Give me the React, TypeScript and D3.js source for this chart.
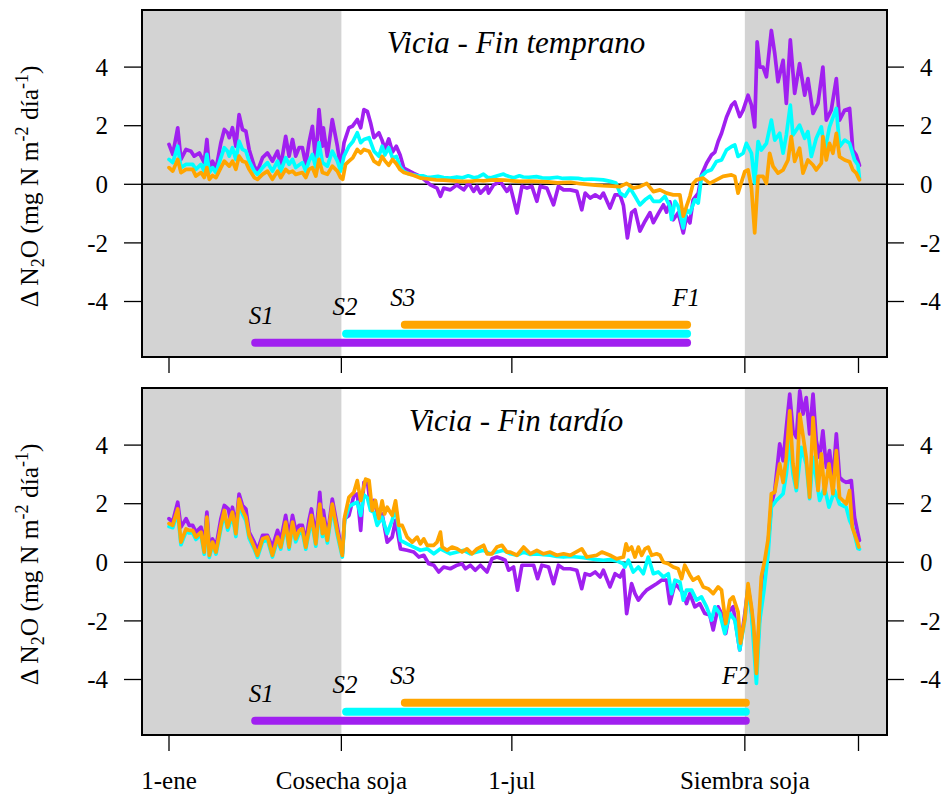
import React from 'react';
import * as d3 from 'd3';

type Pt = [number, number];

// ---------- axis / annotation data ----------
const xTickDays = [0, 91, 181, 304, 364];
const xTickLabels = ['1-ene', 'Cosecha soja', '1-jul', 'Siembra soja', ''];
const yTicks = [-4, -2, 0, 2, 4];
const cosechaDay = 91;
const siembraDay = 304;
const panelTitles = ['Vicia - Fin temprano', 'Vicia - Fin tardío'];
const finLabels = ['F1', 'F2'];
const finDays = [273.5, 304.5];
const startLabels = ['S1', 'S2', 'S3'];
const startDays = [45.5, 93.5, 124.5];

// ---------- Panel 1: Vicia - Fin temprano ----------
const topPurple: Pt[] = [[0,1.36],[2,1.02],[4.6,1.93],[6.3,0.85],[9,1.19],[11.6,1.13],[13.3,0.96],[16,1.07],[18.6,0.74],[20,1.53],[21.3,0.51],[23,0.79],[24.8,0.51],[27.4,1.42],[29.2,1.87],[30.9,1.76],[31.8,1.59],[33.5,1.93],[35.3,1.3],[37,2.38],[38.8,1.87],[40.6,1.81],[42.3,1.19],[45,0.62],[46.7,0.45],[49.4,0.91],[52,1.07],[54.6,0.79],[57.3,1.13],[59,0.62],[61.6,1.64],[63.4,0.96],[65.2,1.53],[66.9,0.96],[68.7,1.25],[70.4,1.25],[72.2,0.68],[73.9,1.42],[75.7,1.98],[77.5,0.74],[79.2,2.55],[81,1.3],[81.5,1.93],[83.6,0.96],[86.2,2.21],[88.9,1.3],[90.6,0.57],[92.4,1.42],[95,1.93],[96.8,1.98],[99.4,2.21],[101.2,1.93],[102.9,2.55],[104.7,2.49],[106.4,2.1],[108.2,1.59],[110.8,1.76],[112.5,1.5],[114,1.2],[116,1.55],[118,1.1],[120,1.3],[122,1.0],[124,0.55],[129,0.38],[132.7,0.27],[138,-0.02],[141.5,-0.13],[143.3,-0.41],[145,-0.13],[148.5,-0.19],[152,-0.02],[155.6,-0.19],[158.2,0.04],[160.8,-0.24],[162.6,-0.07],[164.4,-0.3],[167.9,-0.07],[168.7,-0.3],[171.4,-0.02],[174.9,0.09],[178.4,-0.24],[180.2,-0.07],[183.7,-0.98],[186.3,-0.07],[189,-0.13],[191.6,-0.07],[194.2,-0.58],[196,-0.07],[199.5,-0.13],[203,-0.7],[205.6,-0.07],[208.3,-0.19],[211.8,-0.19],[215.3,-0.24],[217.9,-0.87],[219.7,-0.3],[222.3,-0.47],[225,-0.36],[227.6,-0.47],[229.3,-0.3],[232.8,-0.81],[235.5,-0.36],[238.1,-0.36],[239.9,-0.72],[242,-1.83],[244.2,-0.97],[246,-0.87],[248.6,-1.6],[251.3,-1.26],[253.9,-0.97],[255.7,-1.31],[258.3,-1.0],[261,-0.7],[262.7,-0.95],[264.4,-0.6],[266.2,-1.21],[268.8,-0.97],[271.5,-1.66],[273.2,-1.1],[275,-1.32],[276.7,-0.53],[279.4,-0.3],[281.1,0.32],[283.8,0.72],[286.4,1.0],[288.2,1.1],[289.9,1.46],[291.7,1.74],[294.3,2.29],[297,2.7],[298.7,2.81],[301.3,2.31],[303.1,2.53],[305.7,3.04],[307.5,2.7],[309.2,1.96],[310.5,4.86],[311.9,4.0],[313.6,4.0],[315.4,3.67],[318,5.25],[319.8,4.46],[321.5,3.5],[324.2,4.23],[325.9,2.76],[328,4.93],[330.3,3.1],[332.9,4.12],[335.6,3.04],[337.3,3.61],[340,2.42],[342.6,2.76],[345.2,4.0],[347,2.19],[349.6,2.53],[352.3,3.61],[354,2.19],[356.7,2.53],[359.3,2.59],[361,1.17],[362.8,1.0],[364.5,0.65]];

const topCyan: Pt[] = [[0,0.85],[2,0.74],[4.6,1.3],[6.3,0.57],[9,0.68],[12.5,0.68],[14.2,0.51],[16.9,0.68],[18.6,0.45],[20,1.02],[21.3,0.4],[23,0.57],[24.8,0.4],[27.4,0.91],[29.2,1.25],[30.9,1.13],[31.8,0.96],[33.5,1.25],[35.3,0.85],[37,1.47],[38.8,1.19],[40.6,1.13],[42.3,0.79],[45,0.45],[46.7,0.34],[49.4,0.57],[52,0.74],[54.6,0.45],[57.3,0.79],[59,0.45],[61.6,0.91],[63.4,0.68],[65.2,0.85],[66.9,0.57],[70.4,0.74],[72.2,0.45],[73.9,0.79],[75.7,1.02],[77.5,0.57],[79.2,1.42],[81,0.74],[83.6,0.62],[86.2,1.13],[88.9,0.79],[90.6,0.45],[92.4,0.96],[95,1.3],[97,1.45],[99.4,1.76],[101.2,1.42],[102.9,1.53],[105.6,1.59],[108.2,1.13],[110.8,0.96],[112.5,1.3],[114,1.0],[116,1.25],[118,0.9],[120,0.95],[122,0.6],[124,0.44],[126.5,0.36],[129,0.32],[131,0.3],[134,0.29],[136,0.25],[138,0.24],[142,0.27],[145,0.23],[148.5,0.21],[152,0.25],[155,0.22],[158,0.29],[161,0.22],[163.5,0.26],[166,0.35],[168,0.24],[170,0.22],[173,0.28],[176.6,0.35],[178,0.3],[180,0.26],[182,0.22],[185,0.29],[187,0.25],[190,0.24],[194,0.26],[197,0.22],[201,0.21],[205,0.24],[208,0.2],[212,0.21],[216,0.2],[219,0.17],[223,0.18],[229.3,0.15],[233,0.1],[236,0.04],[238.1,-0.3],[240.7,-0.41],[243.4,-0.13],[246,-0.41],[248.6,-0.7],[251.3,-0.53],[253.9,-0.41],[255.7,-0.58],[259.2,-0.58],[261.8,-0.41],[264.4,-0.75],[265.3,-1.2],[267.1,-0.58],[268.8,-0.75],[271.5,-1.49],[273.2,-0.87],[275,-0.98],[277.6,-0.53],[279.4,-0.64],[281.1,0.27],[283.8,0.44],[286.4,0.5],[289,0.78],[291.7,0.83],[294.3,1.17],[297,1.29],[298.7,1.34],[300.4,0.95],[303.1,1.06],[304.8,1.4],[307.5,1.06],[309.2,0.04],[311,1.46],[312.7,1.17],[315.4,1.4],[318,2.19],[319.8,1.51],[322.4,1.74],[324.2,1.06],[325.9,1.68],[328,2.7],[329.4,1.68],[332.9,2.02],[335.6,1.57],[337.3,1.8],[339.1,0.95],[341.7,1.57],[344.4,1.96],[346.1,1.1],[348.7,1.96],[352.3,2.59],[354,1.29],[356.7,1.51],[359.3,1.4],[361.9,0.83],[363.7,0.66],[364.5,0.2]];

const topOrange: Pt[] = [[0,0.57],[2,0.45],[4.6,0.85],[6.3,0.4],[9,0.51],[12.5,0.51],[14.2,0.28],[16.9,0.4],[18.6,0.23],[20,0.57],[21.3,0.17],[23,0.3],[24.8,0.23],[27.4,0.57],[29.2,0.79],[31.8,0.62],[33.5,0.79],[35.3,0.51],[37,0.96],[38.8,0.79],[40.6,0.75],[42.3,0.51],[45,0.23],[46.7,0.17],[49.4,0.34],[52,0.45],[54.6,0.17],[57.3,0.45],[59,0.23],[61.6,0.51],[63.4,0.4],[65.2,0.45],[66.9,0.34],[70.4,0.4],[72.2,0.23],[73.9,0.51],[75.7,0.57],[77.5,0.28],[79.2,0.85],[81,0.4],[83.6,0.34],[86.2,0.62],[88.9,0.45],[90.6,0.23],[91.7,0.17],[93.2,0.68],[95,0.79],[97,0.9],[99.4,1.19],[101.2,1.07],[102.9,1.19],[105.6,1.13],[108.2,0.79],[110.8,0.68],[112.5,0.95],[114,0.8],[116,0.65],[118,0.85],[120,0.7],[122,0.5],[124,0.4],[128,0.33],[130,0.28],[133,0.21],[137,0.18],[141,0.15],[145,0.14],[150,0.12],[155,0.1],[159,0.1],[163,0.13],[166,0.12],[170,0.14],[173,0.15],[177,0.14],[181,0.12],[185,0.1],[190,0.11],[194,0.1],[200,0.08],[205,0.05],[212,0.07],[217,0.02],[221,0.0],[225,-0.03],[229,-0.05],[234,-0.06],[238.1,-0.08],[241.6,0.03],[245.1,-0.13],[248.6,-0.08],[252.2,0.03],[255.7,-0.25],[259.2,-0.19],[262.7,-0.3],[266.2,-0.36],[269.7,-0.36],[271.5,-1.09],[273.2,-0.75],[275,-0.41],[276.7,0.03],[278.5,0.15],[282,0.21],[285.5,0.03],[289,0.15],[292.5,0.27],[296.9,0.32],[298.7,0.27],[300.4,-0.3],[304,0.44],[305.7,0.49],[307.5,-0.13],[309.2,-1.66],[311,0.27],[313.6,0.27],[315.4,0.03],[317.1,1.06],[318.9,0.61],[321.5,0.38],[324.2,0.49],[326.8,0.83],[328.5,1.63],[330.3,0.78],[332.9,1.23],[334.7,0.38],[337.3,0.83],[340,0.66],[341.7,0.49],[344.4,0.72],[345.2,1.63],[347,0.83],[348.7,1.4],[350.5,1.06],[352.3,1.74],[354,0.94],[356.7,0.83],[359.3,0.77],[361,0.49],[362.8,0.38],[364.5,0.15]];

// ---------- Panel 2: Vicia - Fin tardío ----------
const botPurple: Pt[] = [[0,1.49],[1.9,1.37],[4.6,2.05],[6.3,1.2],[9,1.49],[10.7,1.26],[12.5,1.26],[14.2,1.03],[16.9,1.2],[18.6,0.58],[20,1.71],[21.3,0.52],[23,0.8],[24.8,0.52],[27.4,1.49],[29.2,1.94],[31.3,1.82],[32.7,1.37],[33.5,1.88],[35.3,1.2],[37,2.33],[38.8,1.94],[40.6,1.82],[42.3,1.03],[45,0.69],[46.7,0.41],[49.4,0.92],[52,0.92],[54.6,0.52],[57.3,1.09],[59,0.75],[61.6,1.6],[63.4,0.86],[65.2,1.6],[66.9,1.09],[68.7,1.26],[70.4,1.26],[72.2,0.69],[73.9,1.43],[75.2,1.82],[77.5,0.86],[79.6,2.39],[81,1.2],[81.5,1.77],[83.6,0.86],[86.2,2.16],[88.9,1.2],[91.5,0.3],[92.7,1.49],[95,1.6],[97.6,2.28],[99.4,2.33],[101.2,1.09],[102.9,2.73],[104.7,2.79],[106.4,1.88],[108.2,2.11],[110.3,1.6],[112.5,1.65],[115.2,0.69],[117.8,0.86],[119.6,1.43],[122.2,0.46],[125.7,0.41],[129.2,0.35],[131.9,0.18],[134.5,0.24],[137.1,-0.05],[139.8,-0.1],[142.4,-0.33],[145,-0.16],[148.5,-0.22],[152.1,-0.1],[154.7,-0.05],[156.5,-0.22],[159.1,-0.1],[161.7,-0.27],[164.4,-0.1],[167.9,-0.33],[170.5,0.12],[173.1,0.18],[175.8,0.12],[177.5,0.07],[179.3,-0.27],[181.9,-0.16],[184,-0.95],[186.3,-0.1],[189.8,-0.1],[192.5,-0.1],[194.6,-0.56],[196.8,-0.1],[200.4,-0.16],[203,-0.73],[205.6,-0.1],[208.3,-0.22],[211.8,-0.22],[215.3,-0.27],[217.9,-0.9],[219.7,-0.39],[222.3,-0.44],[225,-0.33],[227.6,-0.5],[229.3,-0.27],[232.8,-0.84],[235.5,-0.39],[238.1,-0.5],[239.9,-0.27],[241.6,-1.75],[244.2,-0.73],[246,-1.07],[247.8,-1.29],[250.4,-1.07],[252.1,-0.95],[254.8,-0.84],[257.4,-0.73],[260,-0.61],[262.7,-0.61],[264.4,-1.41],[267.1,-0.73],[268.8,-0.84],[271.5,-1.07],[273.2,-1.41],[275,-1.07],[277.6,-1.52],[280.2,-1.41],[282.9,-1.75],[285.5,-1.8],[287.3,-2.31],[289.9,-1.52],[291.7,-1.75],[293.9,-2.43],[296.1,-1.63],[297.8,-1.52],[301.3,-2.99],[304,-1.75],[305.7,-0.84],[307.5,-1.63],[310.1,-3.56],[311.9,-1.75],[313.3,-0.39],[314.5,-0.17],[316.3,0.63],[318,1.99],[319.8,2.45],[322.4,4.04],[324.2,3.47],[325.9,4.6],[327.7,5.74],[329.4,4.49],[331.2,4.26],[333,5.85],[334.7,5.06],[336.4,5.62],[338.2,4.38],[340,5.74],[341.7,4.15],[343.5,3.58],[345.2,4.49],[347,3.24],[348.7,3.81],[350.5,2.79],[352.3,4.38],[354,2.9],[355.8,2.79],[357.5,2.73],[360.2,2.79],[361.9,1.54],[363.7,0.98],[364.5,0.75]];

const botCyan: Pt[] = [[0,1.22],[2,1.18],[4.6,1.7],[6.3,0.6],[9,1.05],[10.7,1.0],[12.5,1.0],[14.2,0.78],[16.9,0.95],[18.6,0.28],[20,1.45],[21.3,0.17],[23,0.6],[24.8,0.28],[27.4,1.15],[29.2,1.65],[31,1.1],[33.5,1.6],[35.3,0.88],[37,2.0],[38.8,1.65],[40.6,1.42],[42.3,0.82],[45,0.45],[46.7,0.17],[49.4,0.7],[52,0.76],[54.6,0.18],[57.3,0.76],[59,0.45],[61.6,1.25],[63.4,0.45],[65.2,1.25],[66.9,0.7],[68.7,0.98],[70.4,1.02],[72.2,0.45],[73.9,1.02],[75.2,1.45],[77.5,0.55],[79.6,1.85],[81,0.88],[81.5,1.38],[83.6,0.66],[86.2,1.85],[88.9,0.92],[91.5,0.18],[92.7,1.4],[95,1.9],[97.6,2.0],[99.4,2.05],[101.2,1.6],[102.9,2.3],[104.7,2.2],[106.4,1.77],[108.2,1.7],[109.9,1.26],[112.5,1.54],[115.2,0.98],[117.8,1.43],[119.6,1.88],[122.2,0.75],[125.7,0.63],[129.2,0.52],[132.7,0.41],[136.3,0.46],[139.8,0.29],[143.3,0.46],[148.5,0.29],[152.1,0.35],[155.6,0.41],[159.1,0.29],[162.6,0.35],[166.1,0.41],[169.6,0.29],[173.1,0.35],[176.6,0.41],[180.2,0.29],[183.7,0.24],[187.2,0.35],[190.7,0.27],[194.2,0.29],[197.7,0.26],[201.2,0.24],[204.7,0.2],[208.3,0.18],[211.8,0.2],[215.3,0.18],[218.8,0.16],[222.3,0.12],[225.8,0.09],[229.3,0.07],[232.8,0.09],[236.4,0.05],[239.9,-0.05],[240.7,-0.16],[242.5,0.07],[245.1,-0.33],[247.8,-0.16],[250.4,-0.39],[253,0.18],[255.7,-0.39],[258.3,-0.33],[261,-0.5],[263.6,-0.39],[265.3,-1.07],[267.1,-0.61],[269.7,-0.67],[271.5,-1.29],[273.2,-0.95],[275.9,-0.95],[278.5,-1.29],[281.1,-1.18],[283.8,-1.52],[286.4,-1.97],[288.2,-1.52],[290.8,-1.75],[293.4,-2.43],[296.1,-1.75],[298.7,-1.97],[301.3,-2.99],[304,-1.97],[305.7,-0.84],[307.5,-1.75],[310.1,-4.13],[311.9,-1.97],[314.1,-0.95],[316.3,0.3],[318,1.88],[320.6,2.11],[324.2,2.34],[325.9,3.02],[327.7,4.15],[329.4,3.02],[331.2,2.45],[333.8,3.92],[336.4,3.36],[338.2,2.17],[340,3.58],[343.5,2.11],[346.1,2.56],[348.4,1.88],[351.4,2.45],[354,1.99],[357.5,1.88],[359.3,1.43],[361,1.2],[363.7,0.47],[364.5,0.45]];

const botOrange: Pt[] = [[0,1.32],[1.9,1.26],[4.6,1.82],[6.3,0.69],[9,1.14],[10.7,1.09],[12.5,1.09],[14.2,0.86],[16.9,1.03],[18.6,0.35],[20,1.54],[21.3,0.24],[23,0.69],[24.8,0.35],[27.4,1.26],[29.2,1.77],[30.9,1.2],[33.5,1.71],[35.3,0.98],[37,2.16],[38.8,1.77],[40.6,1.54],[42.3,0.92],[45,0.52],[46.7,0.24],[49.4,0.8],[52,0.86],[54.6,0.24],[57.3,0.86],[59,0.52],[61.6,1.37],[63.4,0.52],[65.2,1.37],[66.9,0.8],[68.7,1.09],[70.4,1.14],[72.2,0.52],[73.9,1.14],[75.2,1.6],[77.5,0.63],[79.6,1.99],[81,0.98],[81.5,1.49],[83.6,0.75],[86.2,1.99],[88.9,1.03],[91.5,0.24],[92.7,1.54],[95,2.22],[97.6,2.39],[99.4,2.79],[101.2,2.11],[103.8,2.84],[105.6,2.79],[107.3,1.77],[109,2.11],[110.8,1.5],[112.5,2.1],[113.8,1.65],[115.2,1.88],[117.8,1.6],[119.6,2.1],[121.3,1.26],[123.1,1.26],[125.7,0.86],[128.4,0.69],[131,0.86],[132.7,0.63],[134.5,0.8],[136.3,0.58],[139.8,0.58],[141.5,0.69],[143.3,1.03],[144.2,0.52],[146.8,0.41],[149.4,0.52],[152.1,0.46],[154.7,0.35],[157.3,0.46],[160,0.29],[162.6,0.46],[166.1,0.58],[167.9,0.29],[170.5,0.29],[173.1,0.52],[175.8,0.58],[178.4,0.35],[180.2,0.35],[183.7,0.24],[187.2,0.52],[190.7,0.29],[194.2,0.41],[197.7,0.29],[201.2,0.35],[204.7,0.24],[208.3,0.29],[211.8,0.24],[217.9,0.46],[220.6,0.18],[225.8,0.24],[228.5,0.35],[232.8,0.24],[236.4,0.12],[239.9,0.18],[241.3,0.63],[242.5,0.41],[244.2,0.52],[246,0.18],[247.8,0.52],[249.5,0.24],[251.3,0.46],[253,0.52],[254.8,0.24],[257.4,0.29],[259.2,0.24],[261,0.0],[263.6,-0.05],[266.2,-0.16],[268.8,-0.22],[270.6,-0.56],[272.3,-0.1],[275,-0.44],[276.7,-0.61],[279.4,-0.5],[282,-0.84],[284.6,-0.9],[287.3,-1.07],[289.9,-0.84],[291.7,-0.95],[293.9,-2.09],[296.1,-1.29],[297.8,-1.18],[300.4,-1.69],[301.7,-2.76],[304,-1.92],[305.7,-0.73],[307.5,-1.52],[308.7,-2.2],[310.1,-3.79],[311.5,-1.86],[312.7,-0.5],[314.5,0.07],[316.3,0.8],[318,2.34],[319.8,2.39],[322.4,3.36],[324.2,2.73],[325.9,3.58],[327.7,5.17],[329.4,3.36],[331.2,2.56],[333,5.06],[334.7,4.32],[336.4,3.58],[338.2,2.22],[340,4.94],[341.7,3.47],[342.6,2.45],[344.4,3.7],[346.1,2.34],[348.4,3.36],[350.5,2.34],[352.3,3.81],[354,2.22],[355.8,2.11],[357.5,1.99],[359.3,2.45],[360.7,1.2],[361.9,0.98],[363.1,0.75],[364.2,0.52]];

const panelSeries: Pt[][][] = [
  [topPurple, topCyan, topOrange],
  [botPurple, botCyan, botOrange],
];

// ---------- styling ----------
const COLORS = ['#A020F0', '#00FFFF', '#FFA500'];
const GRAY = '#D3D3D3';
const FONT = '"Liberation Serif", "Times New Roman", "DejaVu Serif", serif';
const W = 943;
const H = 799;
const PL = 142;
const PR = 887;
const PANEL_TOPS = [10, 388];
const PANEL_H = 347;
const ZERO_OFF = 174.3;
const PX_PER_UNIT = 29.3;
const BAR_VALUES = [-5.41, -5.1, -4.79]; // purple, cyan, orange rows
const LABEL_VALUES = [-4.78, -4.46, -4.17];

const x = d3.scaleLinear().domain([0, 364]).range([169, 858.5]);

function Panel({ idx }: { idx: number }) {
  const top = PANEL_TOPS[idx];
  const zero = top + ZERO_OFF;
  const y = d3
    .scaleLinear()
    .domain([-4, 4])
    .range([zero + 4 * PX_PER_UNIT, zero - 4 * PX_PER_UNIT]);
  const line = d3
    .line<Pt>()
    .x((d) => x(d[0]))
    .y((d) => y(d[1]));
  const bottom = top + PANEL_H;
  const clipId = `clip-${idx}`;
  const finDay = finDays[idx];
  return (
    <g>
      <defs>
        <clipPath id={clipId}>
          <rect x={PL} y={top} width={PR - PL} height={PANEL_H} />
        </clipPath>
      </defs>
      <rect x={PL} y={top} width={x(cosechaDay) - PL} height={PANEL_H} fill={GRAY} />
      <rect x={x(siembraDay)} y={top} width={PR - x(siembraDay)} height={PANEL_H} fill={GRAY} />
      <line x1={PL} x2={PR} y1={y(0)} y2={y(0)} stroke="#000" strokeWidth={1.6} />
      <g clipPath={`url(#${clipId})`}>
        {panelSeries[idx].map((s, i) => (
          <path
            key={i}
            d={line(s) || ''}
            fill="none"
            stroke={COLORS[i]}
            strokeWidth={3.7}
            strokeLinejoin="round"
            strokeLinecap="round"
          />
        ))}
      </g>
      {/* duration bars */}
      {[0, 1, 2].map((i) => (
        <line
          key={`bar${i}`}
          x1={x(startDays[i])}
          x2={x(finDay)}
          y1={y(BAR_VALUES[i])}
          y2={y(BAR_VALUES[i])}
          stroke={COLORS[i]}
          strokeWidth={8}
          strokeLinecap="round"
        />
      ))}
      {startLabels.map((lab, i) => (
        <text
          key={lab}
          x={x(startDays[i]) + (i === 0 ? 6 : i === 1 ? -1 : -2)}
          y={y(LABEL_VALUES[i])}
          textAnchor="middle"
          fontFamily={FONT}
          fontStyle="italic"
          fontSize={25}
        >
          {lab}
        </text>
      ))}
      <text
        x={x(finDay) + (idx === 0 ? -1 : -10)}
        y={y(LABEL_VALUES[2])}
        textAnchor="middle"
        fontFamily={FONT}
        fontStyle="italic"
        fontSize={25}
      >
        {finLabels[idx]}
      </text>
      {/* title */}
      <text
        x={516}
        y={top + 43}
        textAnchor="middle"
        fontFamily={FONT}
        fontStyle="italic"
        fontSize={31}
      >
        {panelTitles[idx]}
      </text>
      {/* frame */}
      <rect x={PL} y={top} width={PR - PL} height={PANEL_H} fill="none" stroke="#000" strokeWidth={2} />
      {/* y ticks left & right */}
      {yTicks.map((t) => (
        <g key={`yt${t}`}>
          <line x1={PL - 18} x2={PL} y1={y(t)} y2={y(t)} stroke="#000" strokeWidth={1.3} />
          <text
            x={108}
            y={y(t)}
            dy="0.35em"
            textAnchor="end"
            fontFamily={FONT}
            fontSize={25}
          >
            {t}
          </text>
          <line x1={PR} x2={PR + 17} y1={y(t)} y2={y(t)} stroke="#000" strokeWidth={1.3} />
          <text x={920} y={y(t)} dy="0.35em" textAnchor="start" fontFamily={FONT} fontSize={25}>
            {t}
          </text>
        </g>
      ))}
      {/* x ticks */}
      {xTickDays.map((d) => (
        <line key={`xt${d}`} x1={x(d)} x2={x(d)} y1={bottom} y2={bottom + 16} stroke="#000" strokeWidth={1.3} />
      ))}
      {/* y axis title */}
      <text
        transform={`translate(38, ${zero + 2}) rotate(-90)`}
        textAnchor="middle"
        fontFamily={FONT}
        fontSize={25.5}
      >
        {'Δ N'}
        <tspan dy={6} fontSize={18}>2</tspan>
        <tspan dy={-6}>{'O (mg N m'}</tspan>
        <tspan dy={-10} fontSize={18}>-2</tspan>
        <tspan dy={10}>{' día'}</tspan>
        <tspan dy={-10} fontSize={18}>-1</tspan>
        <tspan dy={10}>)</tspan>
      </text>
    </g>
  );
}

export default function App() {
  const bottomEdge = PANEL_TOPS[1] + PANEL_H;
  return (
    <svg width={W} height={H} style={{ display: 'block', position: 'absolute', left: 0, top: 0, background: '#fff' }}>
      <rect x={0} y={0} width={W} height={H} fill="#fff" />
      <Panel idx={0} />
      <Panel idx={1} />
      {xTickDays.map((d, i) => (
        <text
          key={`xl${i}`}
          x={x(d)}
          y={bottomEdge + 54}
          textAnchor="middle"
          fontFamily={FONT}
          fontSize={25}
        >
          {xTickLabels[i]}
        </text>
      ))}
    </svg>
  );
}
